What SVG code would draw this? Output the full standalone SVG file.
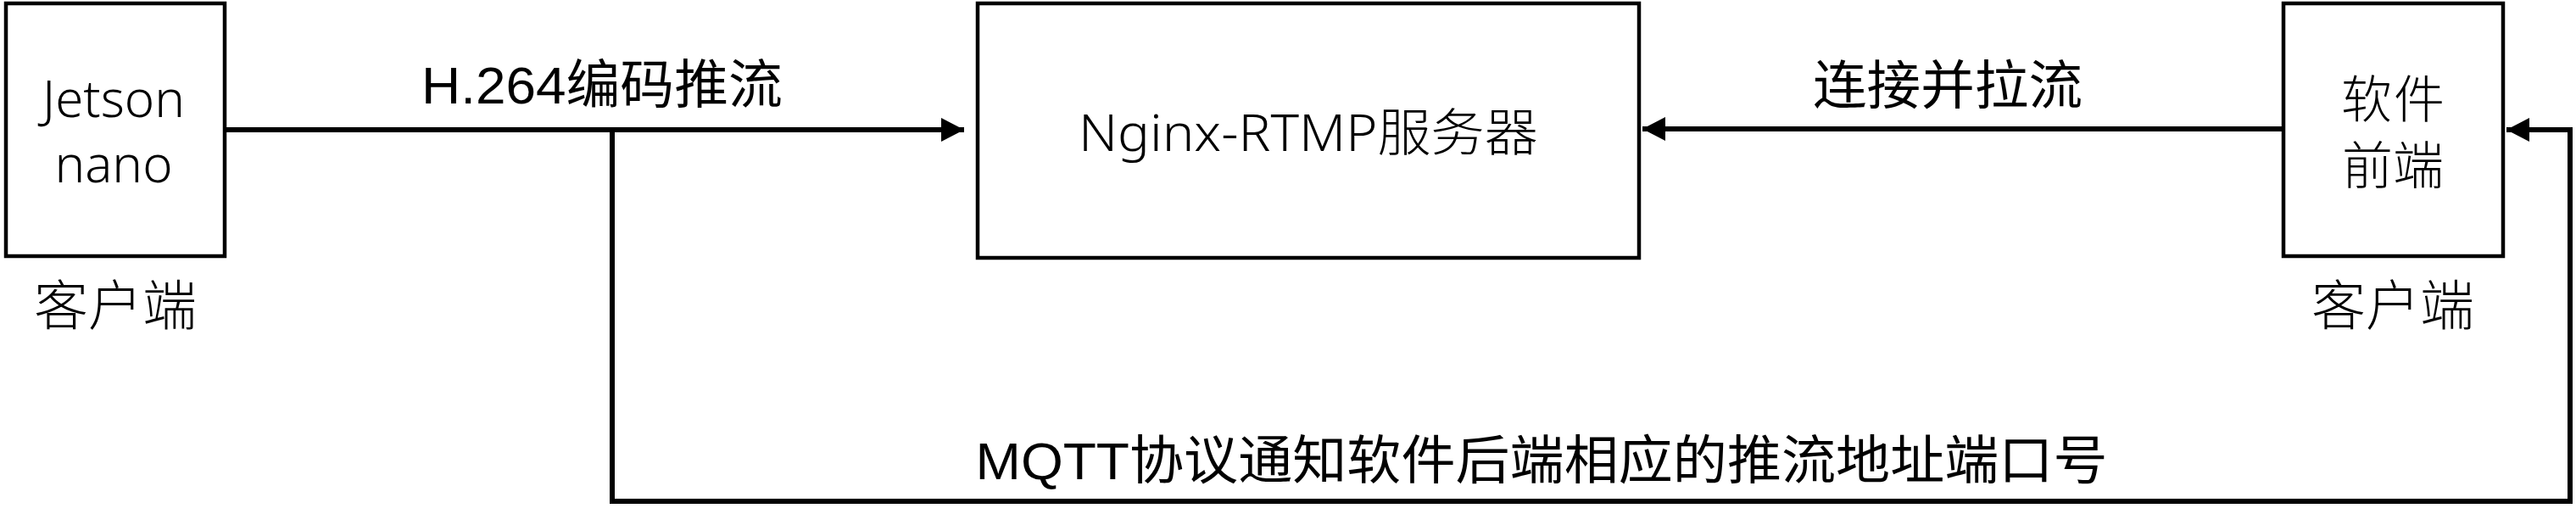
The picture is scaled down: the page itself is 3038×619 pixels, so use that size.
<svg xmlns="http://www.w3.org/2000/svg" width="3038" height="619" viewBox="0 0 3038 619">
<style>
.box{fill:#fff;stroke:#000;stroke-width:4.5}
.node{font-family:"Noto Sans","Noto Sans CJK SC",sans-serif;font-size:60px;font-weight:300;fill:#000;text-anchor:middle}
.cap{font-family:"Noto Sans CJK SC",sans-serif;font-size:64px;font-weight:300;fill:#000;text-anchor:middle}
.lbl{font-family:"Liberation Sans","Noto Sans CJK SC",sans-serif;font-size:62px;fill:#000;text-anchor:middle}
.conn{fill:none;stroke:#000;stroke-width:6}
</style>
<defs>
<marker id="arr" markerUnits="userSpaceOnUse" markerWidth="28" markerHeight="30" refX="27" refY="14" orient="auto" viewBox="0 0 28 28">
<path d="M0,0 L27,14 L0,28 z" fill="#000"/>
</marker>
</defs>
<rect width="3038" height="619" fill="#fff"/>
<g id="connectors">
<path class="conn" d="M265,153 H1137" marker-end="url(#arr)"/>
<path class="conn" d="M722,153 V591 H3031 V153 H2956" marker-end="url(#arr)"/>
<path class="conn" d="M2693,152 H1937" marker-end="url(#arr)"/>
<text class="lbl" x="710" y="122" font-size="60" textLength="426" lengthAdjust="spacingAndGlyphs">H.264编码推流</text>
<text class="lbl" x="2297" y="123" textLength="318" lengthAdjust="spacingAndGlyphs">连接并拉流</text>
<text class="lbl" x="1818" y="565" font-size="63" textLength="1335" lengthAdjust="spacingAndGlyphs">MQTT协议通知软件后端相应的推流地址端口号</text>
</g>
<g id="jetson">
<rect class="box" x="7" y="4" width="258" height="298"/>
<text class="node" x="134" y="138">Jetson</text>
<text class="node" x="134" y="215">nano</text>
<text class="cap" x="136" y="383">客户端</text>
</g>
<g id="nginx">
<rect class="box" x="1153" y="4" width="780" height="300"/>
<text class="node" x="1543" y="178" textLength="542" lengthAdjust="spacingAndGlyphs">Nginx-RTMP服务器</text>
</g>
<g id="frontend">
<rect class="box" x="2693" y="4" width="259" height="298"/>
<text class="node" x="2822" y="139" textLength="122" lengthAdjust="spacing">软件</text>
<text class="node" x="2822" y="217">前端</text>
<text class="cap" x="2822" y="383">客户端</text>
</g>
</svg>
